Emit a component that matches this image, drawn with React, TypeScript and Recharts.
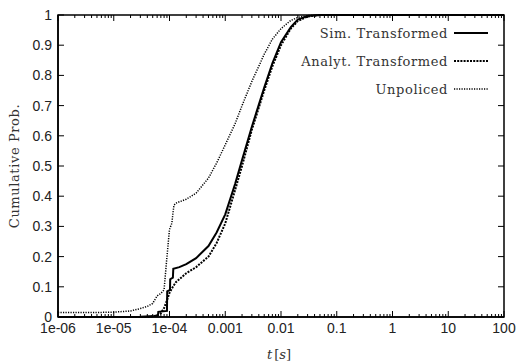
import React from 'react';
import {
  LineChart,
  Line,
  XAxis,
  YAxis,
  Legend,
  ReferenceArea,
} from 'recharts';

// x-axis ticks (log scale) and their labels
const xMajorTicks = [1e-6, 1e-5, 1e-4, 1e-3, 1e-2, 1e-1, 1, 10, 100];
const xMajorLabels = ['1e-06', '1e-05', '1e-04', '0.001', '0.01', '0.1', '1', '10', '100'];
const xMinorFactors = [2, 3, 4, 5, 6, 7, 8, 9];

const yTicks = [0, 0.1, 0.2, 0.3, 0.4, 0.5, 0.6, 0.7, 0.8, 0.9, 1];
const yLabels = ['0', '0.1', '0.2', '0.3', '0.4', '0.5', '0.6', '0.7', '0.8', '0.9', '1'];

// Sim. Transformed
const simTime = [
  1e-6, 1e-5, 3e-5, 5.5e-5, 6.2e-5, 6.3e-5, 9e-5, 9.1e-5, 1.02e-4, 1.03e-4, 1.15e-4, 1.17e-4,
  1.5e-4, 2e-4, 3e-4, 5e-4, 7e-4, 1e-3, 1.5e-3, 2e-3, 3e-3, 5e-3, 7e-3, 1e-2, 1.5e-2, 2e-2,
  3e-2, 5e-2, 100,
];
const simProb = [
  0, 0, 0.001, 0.003, 0.005, 0.017, 0.02, 0.085, 0.09, 0.125, 0.13, 0.16,
  0.165, 0.175, 0.195, 0.235, 0.28, 0.34, 0.44, 0.52, 0.63, 0.76, 0.84, 0.91, 0.96, 0.985,
  0.997, 1, 1,
];

// Analyt. Transformed
const analytTime = [
  1e-6, 4e-5, 6e-5, 7e-5, 8e-5, 9e-5, 1e-4, 1.15e-4, 1.3e-4, 2e-4, 3e-4, 5e-4, 7e-4,
  1e-3, 1.5e-3, 2e-3, 3e-3, 5e-3, 7e-3, 1e-2, 1.5e-2, 2e-2, 3e-2, 5e-2, 100,
];
const analytProb = [
  0, 0, 0.005, 0.012, 0.03, 0.055, 0.08, 0.1, 0.115, 0.145, 0.165, 0.2, 0.245,
  0.31, 0.42, 0.5, 0.62, 0.75, 0.83, 0.9, 0.955, 0.98, 0.995, 1, 1,
];

// Unpoliced
const unpolTime = [
  1e-6, 5e-6, 1e-5, 2e-5, 3e-5, 4e-5, 5e-5, 6e-5, 7e-5, 8e-5, 9e-5, 1e-4, 1.1e-4, 1.2e-4,
  1.3e-4, 2e-4, 3e-4, 5e-4, 7e-4, 1e-3, 1.5e-3, 2e-3, 3e-3, 5e-3, 7e-3, 1e-2, 1.5e-2, 2e-2,
  3e-2, 5e-2, 100,
];
const unpolProb = [
  0.015, 0.015, 0.016, 0.02, 0.028, 0.035, 0.045, 0.07, 0.078, 0.09, 0.2, 0.29, 0.31, 0.37,
  0.377, 0.39, 0.41, 0.46, 0.51, 0.57, 0.64, 0.7, 0.78, 0.87, 0.92, 0.955, 0.982, 0.992,
  0.998, 1, 1,
];

const toPoints = (ts: number[], ps: number[]) => ts.map((t, i) => ({ t, p: ps[i] }));

const simData = toPoints(simTime, simProb);
const analytData = toPoints(analytTime, analytProb);
const unpolData = toPoints(unpolTime, unpolProb);

const allXTicks: number[] = [];
xMajorTicks.forEach((m, i) => {
  allXTicks.push(m);
  if (i < xMajorTicks.length - 1) {
    xMinorFactors.forEach((f) => allXTicks.push(m * f));
  }
});

const legendItems = [
  { name: 'Sim. Transformed', dash: undefined, width: 2 },
  { name: 'Analyt. Transformed', dash: '2 1.2', width: 2 },
  { name: 'Unpoliced', dash: '1.2 1.3', width: 1.5 },
];

const W = 518;
const H = 362;
const PLOT_LEFT = 58;
const PLOT_RIGHT = 504;
const PLOT_TOP = 15;
const PLOT_BOTTOM = 317;

const tickFont = '"Liberation Sans", Arial, sans-serif';
const serifFont = '"DejaVu Serif", serif';

const isMajor = (v: number) => xMajorTicks.some((m) => Math.abs(v / m - 1) < 1e-9);

const XTick = (props: any) => {
  const { x, payload } = props;
  const v = payload.value;
  const major = isMajor(v);
  const len = major ? 6 : 3;
  const idx = xMajorTicks.findIndex((m) => Math.abs(v / m - 1) < 1e-9);
  return (
    <g>
      <line x1={x} x2={x} y1={PLOT_BOTTOM} y2={PLOT_BOTTOM - len} stroke="#000" strokeWidth={1} />
      <line x1={x} x2={x} y1={PLOT_TOP} y2={PLOT_TOP + len} stroke="#000" strokeWidth={1} />
      {major && (
        <text
          x={x}
          y={PLOT_BOTTOM + 16}
          textAnchor="middle"
          fontFamily={tickFont}
          fontSize={14}
          fill="#222"
        >
          {xMajorLabels[idx]}
        </text>
      )}
    </g>
  );
};

const YTick = (props: any) => {
  const { y, payload } = props;
  const idx = yTicks.indexOf(payload.value);
  return (
    <g>
      <line x1={PLOT_LEFT} x2={PLOT_LEFT + 6} y1={y} y2={y} stroke="#000" strokeWidth={1} />
      <line x1={PLOT_RIGHT} x2={PLOT_RIGHT - 6} y1={y} y2={y} stroke="#000" strokeWidth={1} />
      <text
        x={PLOT_LEFT - 6}
        y={y}
        dy="0.36em"
        textAnchor="end"
        fontFamily={tickFont}
        fontSize={14}
        fill="#222"
      >
        {yLabels[idx]}
      </text>
    </g>
  );
};

const LegendBox = () => (
  <div style={{ fontFamily: serifFont, fontSize: 13, color: '#333' }}>
    {legendItems.map((it) => (
      <div
        key={it.name}
        style={{ display: 'flex', alignItems: 'center', justifyContent: 'flex-end', height: 28 }}
      >
        <span style={{ letterSpacing: 0.6 }}>{it.name}</span>
        <svg width={40} height={10} style={{ marginLeft: 6 }}>
          <line
            x1={0}
            x2={34}
            y1={5}
            y2={5}
            stroke="#000"
            strokeWidth={it.width}
            strokeDasharray={it.dash}
          />
        </svg>
      </div>
    ))}
  </div>
);

export default function App() {
  return (
    <div style={{ position: 'relative', width: W, height: H, background: '#fff' }}>
      <style>{`body{margin:0}`}</style>
      <LineChart
        width={W}
        height={H}
        margin={{ top: PLOT_TOP, right: W - PLOT_RIGHT, bottom: 0, left: 0 }}
      >
        <XAxis
          dataKey="t"
          type="number"
          scale="log"
          domain={[1e-6, 100]}
          ticks={allXTicks}
          interval={0}
          allowDataOverflow
          height={H - PLOT_BOTTOM}
          tickLine={false}
          tickSize={0}
          tickMargin={0}
          tick={<XTick />}
          axisLine={{ stroke: '#000', strokeWidth: 1.5 }}
        />
        <YAxis
          type="number"
          domain={[0, 1]}
          ticks={yTicks}
          interval={0}
          width={PLOT_LEFT}
          tickLine={false}
          tickSize={0}
          tickMargin={0}
          tick={<YTick />}
          axisLine={{ stroke: '#000', strokeWidth: 1.5 }}
        />
        <ReferenceArea
          x1={1e-6}
          x2={100}
          y1={0}
          y2={1}
          fill="none"
          stroke="#000"
          strokeWidth={1.5}
          ifOverflow="extendDomain"
        />
        <Legend
          layout="horizontal"
          verticalAlign="middle"
          align="center"
          wrapperStyle={{ top: 19, right: 24, left: 'auto', width: 'auto', bottom: 'auto' }}
          content={<LegendBox />}
        />
        <Line
          data={unpolData}
          dataKey="p"
          name="Unpoliced"
          type="linear"
          stroke="#000"
          strokeWidth={1.5}
          strokeDasharray="1.2 1.3"
          dot={false}
          isAnimationActive={false}
        />
        <Line
          data={analytData}
          dataKey="p"
          name="Analyt. Transformed"
          type="linear"
          stroke="#000"
          strokeWidth={2}
          strokeDasharray="2 1.2"
          dot={false}
          isAnimationActive={false}
        />
        <Line
          data={simData}
          dataKey="p"
          name="Sim. Transformed"
          type="linear"
          stroke="#000"
          strokeWidth={2}
          dot={false}
          isAnimationActive={false}
        />
      </LineChart>
      <div
        style={{
          position: 'absolute',
          left: 14,
          top: 166,
          transform: 'translate(-50%, -50%) rotate(-90deg)',
          fontFamily: serifFont,
          fontSize: 13,
          letterSpacing: 0.6,
          color: '#333',
          whiteSpace: 'nowrap',
        }}
      >
        Cumulative Prob.
      </div>
      <div
        style={{
          position: 'absolute',
          left: 279,
          top: 348,
          transform: 'translateX(-50%)',
          fontFamily: serifFont,
          fontSize: 13,
          color: '#333',
          whiteSpace: 'nowrap',
          lineHeight: '14px',
        }}
      >
        <i>t</i>
        <span style={{ marginLeft: 2 }}>[</span>
        <i>s</i>
        <span>]</span>
      </div>
    </div>
  );
}
